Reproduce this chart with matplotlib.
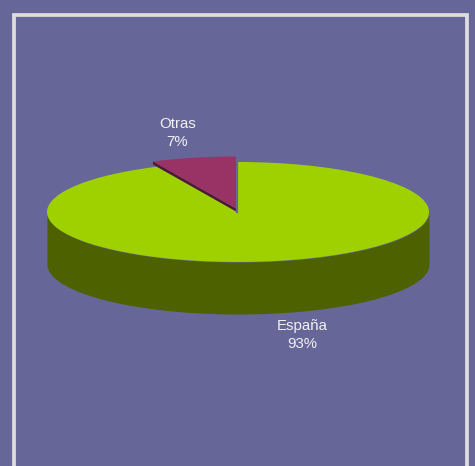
import numpy as np
import matplotlib
matplotlib.use("Agg")
import matplotlib.pyplot as plt
from matplotlib.patches import Wedge, Polygon
from matplotlib.transforms import Affine2D

categories = ["España", "Otras"]
percent = [93, 7]
sweep_share = [0.93, 0.07]

BG = "#666699"
GREEN = "#9FD000"
OLIVE = "#4D6100"
PLUM = "#993366"
PLUM_DARK = "#4D1A33"
FRAME = "#DDDDDD"
TXT = "#F2F2F2"

W, H = 475, 466
fig = plt.figure(figsize=(W / 100, H / 100), dpi=100, facecolor=BG)
ax = fig.add_axes([0, 0, 1, 1])
ax.set_xlim(0, W)
ax.set_ylim(H, 0)
ax.axis("off")

# frame (open at the bottom, runs off the canvas)
ax.plot([13.5, 13.5, 466.5, 466.5], [H + 5, 14.5, 14.5, H + 5], color=FRAME, lw=2.7,
        solid_joinstyle="miter", zorder=1)

# geometry of the flattened disc
cx, cy, rx, ry, depth = 238, 212, 191, 50, 52
otras_deg = sweep_share[1] * 360
a0 = 90
a1 = 90 + otras_deg


def disc(x0, y0, sx, sy):
    # y axis is inverted, so flip to keep counter-clockwise angles
    return Affine2D().scale(sx, -sy).translate(x0, y0) + ax.transData


# side wall of main slice
t = np.radians(np.linspace(180, 360, 200))
xs = cx + rx * np.cos(t)
ytop = cy - ry * np.sin(t)
ax.fill_between(xs, ytop, ytop + depth, color=OLIVE, lw=0, zorder=2)

# top of main slice
ax.add_patch(Wedge((0, 0), 1, a1, a0 + 360, transform=disc(cx, cy, rx, ry),
                   fc=GREEN, ec="none", zorder=3))

# exploded slice
ox, oy, orx, ory = 236, 208.5, 195, 52
ang = np.radians(a1)
lx, ly = ox + orx * np.cos(ang), oy - ory * np.sin(ang)
ax.add_patch(Polygon([(ox, oy), (lx, ly), (lx, ly + 3), (ox, oy + 3)],
                     closed=True, fc=PLUM_DARK, ec="none", zorder=4))
ax.plot([ox + 1, ox + 1], [oy - ory, oy + 3], color=BG, lw=1.6, zorder=4)
ax.add_patch(Wedge((0, 0), 1, a0, a1, transform=disc(ox, oy, orx, ory),
                   fc=PLUM, ec="none", zorder=5))

font = dict(family="Liberation Sans", fontsize=10.8, color=TXT, ha="center", va="center",
            zorder=6, linespacing=1.42)
ax.text(302, 335, f"{categories[0]}\n{percent[0]}%", **font)
ax.text(177.5, 133, f"{categories[1]}\n{percent[1]}%", **font)

fig.savefig("out.png", dpi=100, facecolor=BG)
